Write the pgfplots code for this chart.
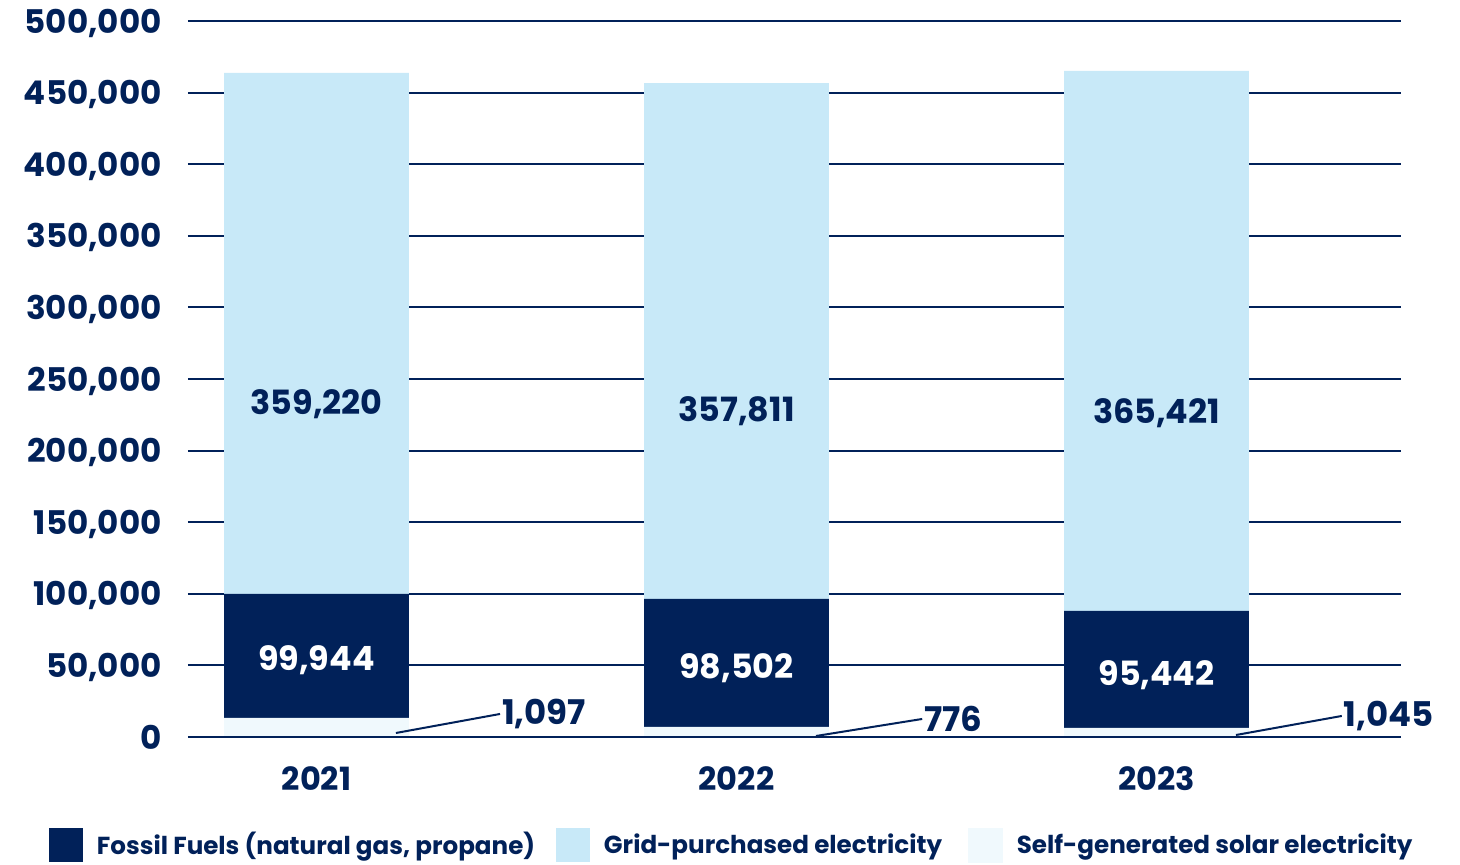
\documentclass[border=0pt]{standalone}
\usepackage{pgfplots}
\pgfplotsset{compat=1.18}
\usepackage{fontspec}
\setmainfont{Poppins}
\definecolor{navy}{RGB}{1,33,89}
\definecolor{gridblue}{RGB}{200,233,248}
\definecolor{solar}{RGB}{240,249,253}
\tikzset{lbl/.style={font=\fontsize{16.7}{20}\selectfont\bfseries, text=navy, yshift=-1.5pt},
         slbl/.style={font=\fontsize{17}{20}\selectfont\bfseries, text=navy}}
\begin{document}
\begin{tikzpicture}
\useasboundingbox (-94pt,-63.5pt) rectangle (636pt,368.5pt);
\begin{axis}[
  clip=false,
  at={(0pt,0pt)}, anchor=south west,
  scale only axis, width=606.5pt, height=358pt,
  ybar stacked, bar width=0.44,
  xmin=-0.306, xmax=2.582, ymin=0, ymax=500000,
  xtick={0,1,2}, xticklabels={2021,2022,2023},
  ytick={0,50000,100000,150000,200000,250000,300000,350000,400000,450000,500000},
  yticklabels={0,{50,000},{100,000},{150,000},{200,000},{250,000},{300,000},{350,000},{400,000},{450,000},{500,000}},
  scaled y ticks=false,
  axis line style={draw=none}, major tick length=0pt,
  ymajorgrids, grid style={navy, line width=1pt},
  tick label style={text=navy},
  yticklabel style={font=\fontsize{16.3}{19}\selectfont\bfseries, inner sep=0pt, anchor=base east, xshift=-13pt, yshift=-6pt},
  xticklabel style={font=\fontsize{16}{19}\selectfont\bfseries, inner sep=0pt, anchor=north, yshift=-14.5pt},
  legend columns=3,
  legend style={draw=none, fill=none, inner sep=0pt, outer sep=0pt,
    at={(-0.1146,-0.1508)}, anchor=west,
    font=\fontsize{12.3}{15}\selectfont\bfseries, text=navy,
    nodes={inner sep=0pt, text=navy},
    /tikz/every odd column/.append style={column sep=7pt}},
]
\addplot[fill=solar, draw=none, forget plot] coordinates {(0,13300) (1,7000) (2,6300)};
\addplot[fill=navy, draw=none, legend image code/.code={\fill[navy] (0pt,-8.5pt) rectangle (17pt,8.5pt);}] coordinates {(0,86600) (1,89400) (2,81700)};
\addplot[fill=gridblue, draw=none, legend image code/.code={\fill[gridblue] (0pt,-8.5pt) rectangle (17pt,8.5pt);}] coordinates {(0,363800) (1,360300) (2,377100)};
\addlegendimage{legend image code/.code={\fill[solar] (0pt,-8.5pt) rectangle (17pt,8.5pt);}}
\legend{\makebox[229.5pt][l]{Fossil Fuels (natural gas, propane)}, \makebox[182pt][l]{Grid-purchased electricity}, Self-generated solar electricity}
\coordinate (z0) at (axis cs:-0.306,0);
\coordinate (z1) at (axis cs:2.582,0);
\coordinate (g0) at (axis cs:0,234600);
\coordinate (g1) at (axis cs:1,229700);
\coordinate (g2) at (axis cs:2,228000);
\coordinate (f0) at (axis cs:0,55900);
\coordinate (f1) at (axis cs:1,50300);
\coordinate (f2) at (axis cs:2,45400);
\coordinate (sa0) at (axis cs:0.189,2800);
\coordinate (sb0) at (axis cs:0.437,16100);
\coordinate (sa1) at (axis cs:1.189,700);
\coordinate (sb1) at (axis cs:1.442,12600);
\coordinate (sa2) at (axis cs:2.189,1400);
\coordinate (sb2) at (axis cs:2.441,14700);
\end{axis}
\draw[navy, line width=1pt] (z0) -- (z1);
\node[lbl] at (g0) {359,220};
\node[lbl] at (g1) {357,811};
\node[lbl] at (g2) {365,421};
\node[lbl, text=white] at (f0) {99,944};
\node[lbl, text=white] at (f1) {98,502};
\node[lbl, text=white] at (f2) {95,442};
\draw[navy, line width=1pt] (sa0) -- (sb0) node[slbl, anchor=west, inner sep=0.5pt] {1,097};
\draw[navy, line width=1pt] (sa1) -- (sb1) node[slbl, anchor=west, inner sep=0.5pt] {776};
\draw[navy, line width=1pt] (sa2) -- (sb2) node[slbl, anchor=west, inner sep=0.5pt] {1,045};
\end{tikzpicture}
\end{document}
